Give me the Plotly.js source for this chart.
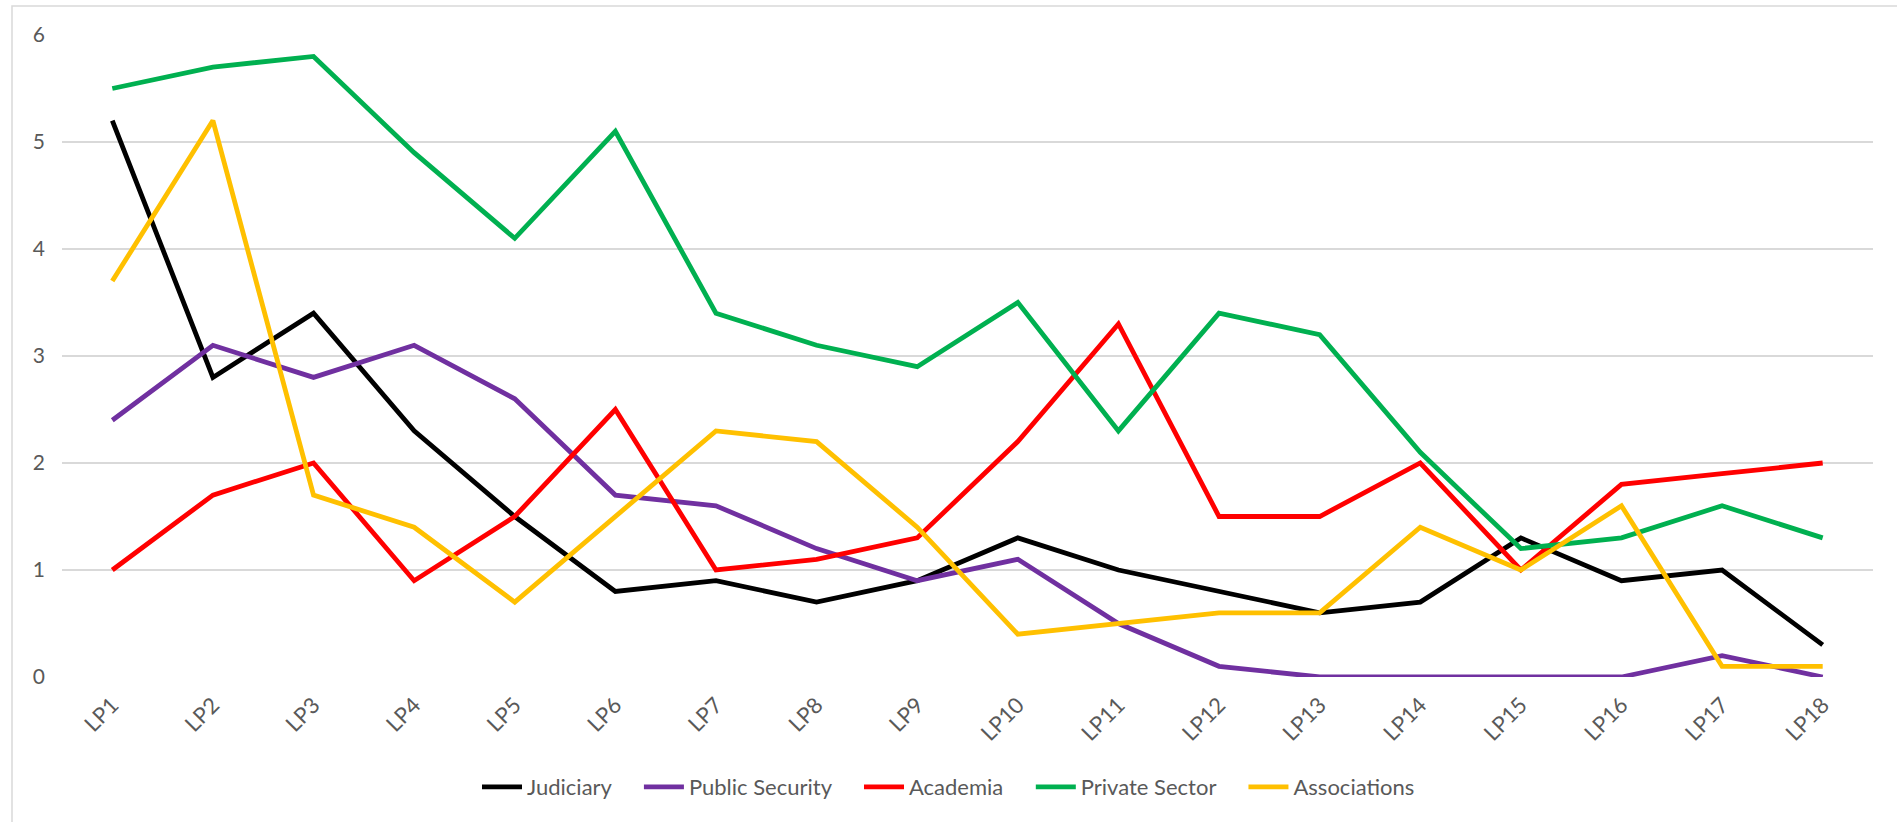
<!DOCTYPE html>
<html>
<head>
<meta charset="utf-8">
<script src="https://cdn.plot.ly/plotly-3.0.1.min.js"></script>
<style>
  html, body { margin: 0; padding: 0; background: #fff; }
  #chart { width: 1897px; height: 822px; }
</style>
</head>
<body>
<div id="chart"></div>
<script>
var linewidth = 4.8;

var categories = ["LP1", "LP2", "LP3", "LP4", "LP5", "LP6", "LP7", "LP8", "LP9",
	"LP10", "LP11", "LP12", "LP13", "LP14", "LP15", "LP16", "LP17", "LP18"];

var judiciary = [5.2, 2.8, 3.4, 2.3, 1.5, 0.8, 0.9, 0.7, 0.9, 1.3, 1.0, 0.8, 0.6, 0.7, 1.3, 0.9, 1.0, 0.3];
var public_security = [2.4, 3.1, 2.8, 3.1, 2.6, 1.7, 1.6, 1.2, 0.9, 1.1, 0.5, 0.1, 0, 0, 0, 0, 0.2, 0];
var academia = [1.0, 1.7, 2.0, 0.9, 1.5, 2.5, 1.0, 1.1, 1.3, 2.2, 3.3, 1.5, 1.5, 2.0, 1.0, 1.8, 1.9, 2.0];
var private_sector = [5.5, 5.7, 5.8, 4.9, 4.1, 5.1, 3.4, 3.1, 2.9, 3.5, 2.3, 3.4, 3.2, 2.1, 1.2, 1.3, 1.6, 1.3];
var associations = [3.7, 5.2, 1.7, 1.4, 0.7, 1.5, 2.3, 2.2, 1.4, 0.4, 0.5, 0.6, 0.6, 1.4, 1.0, 1.6, 0.1, 0.1];

var series_names = ["Judiciary", "Public Security", "Academia", "Private Sector", "Associations"];
var series_values = [judiciary, public_security, academia, private_sector, associations];
var series_colors = ["#000000", "#7030A0", "#FF0000", "#00B050", "#FFC000"];

// a few non-breaking spaces after each name to space the legend entries out like Excel does
var pad = "\u00A0\u00A0\u00A0\u00A0";

var data = [];
for (var i = 0; i < series_names.length; i++) {
	data.push({
		type: "scatter",
		mode: "lines",
		x: categories,
		y: series_values[i],
		name: series_names[i] + (i < series_names.length - 1 ? pad : ""),
		line: {
			color: series_colors[i],
			width: linewidth
		}
	});
}

var font_family = "Lato, 'Open Sans', sans-serif";

var layout = {
	width: 1897,
	height: 822,
	paper_bgcolor: "#ffffff",
	plot_bgcolor: "#ffffff",
	font: { family: font_family, color: "#595959" },
	margin: { l: 62, r: 24, t: 35, b: 145, autoexpand: false },
	showlegend: true,
	legend: {
		orientation: "h",
		x: 0.5,
		xanchor: "center",
		xref: "container",
		y: 35 / 822,
		yanchor: "middle",
		yref: "container",
		font: { size: 22, color: "#595959" },
		itemwidth: 40,
		tracegroupgap: 0
	},
	xaxis: {
		type: "category",
		range: [-0.5, 17.5],
		showgrid: false,
		zeroline: false,
		showline: false,
		ticks: "",
		tickangle: -45,
		ticklabelstandoff: 10,
		tickfont: { size: 22, color: "#595959" },
		fixedrange: true
	},
	yaxis: {
		range: [0, 6],
		dtick: 1,
		showgrid: true,
		gridcolor: "#d9d9d9",
		gridwidth: 1.5,
		zeroline: false,
		showline: false,
		ticks: "",
		ticklabelstandoff: 16,
		tickfont: { size: 21, color: "#595959" },
		fixedrange: true
	},
	shapes: [{
		// chart area border, runs off the right and bottom edges
		type: "rect",
		xref: "paper",
		yref: "paper",
		x0: (12 - 62) / 1811,
		x1: (1910 - 62) / 1811,
		y0: -(822 - 677 + 10) / 642,
		y1: (677 - 6) / 642,
		line: { color: "#d9d9d9", width: 1.5 },
		layer: "below"
	}]
};

Plotly.newPlot("chart", data, layout, { displayModeBar: false, staticPlot: true });
</script>
</body>
</html>
